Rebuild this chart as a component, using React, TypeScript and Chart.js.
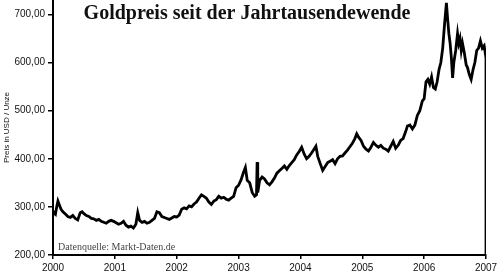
import React, { useEffect, useRef } from "react";
import { Chart, registerables } from "chart.js";

Chart.register(...registerables);

const chartTitle = "Goldpreis seit der Jahrtausendewende";
const yAxisTitle = "Preis in USD / Unze";
const sourceNote = "Datenquelle: Markt-Daten.de";

const xTickYears = [2000, 2001, 2002, 2003, 2004, 2005, 2006, 2007];
const yTickValues = [200, 300, 400, 500, 600, 700];

const dates = [
  2000.0, 2000.02, 2000.04, 2000.06, 2000.08, 2000.1, 2000.13, 2000.16, 2000.2, 2000.24,
  2000.28, 2000.32, 2000.36, 2000.4, 2000.44, 2000.47, 2000.5, 2000.54, 2000.58, 2000.62,
  2000.66, 2000.7, 2000.74, 2000.78, 2000.82, 2000.86, 2000.9, 2000.94, 2000.98,
  2001.02, 2001.06, 2001.1, 2001.14, 2001.18, 2001.22, 2001.26, 2001.3, 2001.34, 2001.37,
  2001.4, 2001.44, 2001.48, 2001.52, 2001.56, 2001.6, 2001.64, 2001.68, 2001.72, 2001.76,
  2001.8, 2001.84, 2001.88, 2001.92, 2001.96,
  2002.0, 2002.04, 2002.08, 2002.12, 2002.16, 2002.2, 2002.24, 2002.28, 2002.32, 2002.36,
  2002.4, 2002.44, 2002.48, 2002.52, 2002.56, 2002.6, 2002.64, 2002.68, 2002.72, 2002.76,
  2002.8, 2002.84, 2002.88, 2002.92, 2002.96,
  2003.0, 2003.04, 2003.08, 2003.11, 2003.14, 2003.18, 2003.22, 2003.26, 2003.29, 2003.3,
  2003.31, 2003.34, 2003.38, 2003.42, 2003.46, 2003.5, 2003.54, 2003.58, 2003.62, 2003.66,
  2003.7, 2003.74, 2003.78, 2003.82, 2003.86, 2003.9, 2003.94, 2003.98,
  2004.02, 2004.06, 2004.1, 2004.14, 2004.18, 2004.22, 2004.25, 2004.28, 2004.32, 2004.36,
  2004.4, 2004.44, 2004.48, 2004.52, 2004.56, 2004.6, 2004.64, 2004.68, 2004.72, 2004.76,
  2004.8, 2004.84, 2004.88, 2004.91, 2004.94, 2004.98,
  2005.02, 2005.06, 2005.1, 2005.14, 2005.18, 2005.22, 2005.26, 2005.3, 2005.34, 2005.38,
  2005.42, 2005.46, 2005.5, 2005.54, 2005.58, 2005.62, 2005.66, 2005.7, 2005.73, 2005.77,
  2005.81, 2005.85, 2005.89, 2005.93, 2005.97,
  2006.0, 2006.03, 2006.06, 2006.09, 2006.12, 2006.15, 2006.18, 2006.21, 2006.24, 2006.27,
  2006.3, 2006.33, 2006.36, 2006.38, 2006.4, 2006.42, 2006.44, 2006.46, 2006.48, 2006.51,
  2006.54, 2006.56, 2006.58, 2006.6, 2006.62, 2006.65, 2006.68, 2006.7, 2006.73, 2006.76,
  2006.79, 2006.82, 2006.85, 2006.88, 2006.91, 2006.94, 2006.97, 2007.0, 2007.0,
];

const prices = [
  283, 288, 285, 300, 312, 305, 295, 290, 285, 280,
  278, 282, 276, 273, 288, 290, 286, 282, 280, 276,
  275, 272, 274, 270, 268, 266, 270, 272, 270,
  267, 264, 266, 270, 262, 258, 260, 256, 264, 288,
  272, 268, 270, 266, 268, 272, 276, 290, 288, 280,
  278, 276, 274, 277, 280,
  279, 283, 295, 298, 296, 302, 300, 306, 310, 318,
  325, 322, 318, 310, 305, 312, 315, 322, 318, 320,
  316, 314, 318, 322, 340,
  345, 356, 372, 382, 355, 350, 330, 322, 325, 393,
  330, 355, 362, 358, 350, 346, 352, 360, 370, 375,
  380, 385, 378, 386, 392, 398, 408, 415,
  424, 410, 400, 405, 412, 420, 426, 405, 390, 376,
  384, 392, 395, 398, 390, 400, 405, 406, 412, 418,
  425, 432, 442, 452, 445, 438,
  426, 420, 416, 424, 434, 428, 424, 428, 422, 420,
  416, 426, 436, 422, 428, 438, 442, 456, 468, 470,
  462, 470, 490, 500, 520,
  525, 560, 565, 555, 570, 548, 545, 560, 585, 600,
  630, 680, 724, 690, 660, 640, 610, 568, 600, 625,
  660, 640, 650, 625, 640, 620, 595, 590, 575, 565,
  585, 600, 625, 630, 645, 630, 635, 610, 200,
];

const overlayText = {
  id: "overlayText",
  afterDraw(chart: any) {
    const ctx = chart.ctx;
    const area = chart.chartArea;
    ctx.save();
    ctx.fillStyle = "#111";
    ctx.font = 'bold 20px "Liberation Serif", serif';
    ctx.textAlign = "center";
    ctx.textBaseline = "alphabetic";
    ctx.fillText(chartTitle, 247, 19);
    ctx.fillStyle = "#444";
    ctx.font = '10px "Liberation Serif", serif';
    ctx.textAlign = "left";
    ctx.fillText(sourceNote, area.left + 5, area.bottom - 5);
    ctx.restore();
  },
};

export default function App() {
  const ref = useRef<HTMLCanvasElement>(null);
  useEffect(() => {
    const chart = new Chart(ref.current as HTMLCanvasElement, {
      type: "line",
      data: {
        datasets: [
          {
            data: dates.map((d, i) => ({ x: d, y: prices[i] })),
            borderColor: "#000",
            borderWidth: 2.8,
            pointRadius: 0,
            tension: 0,
            fill: false,
          },
        ],
      },
      options: {
        animation: false,
        responsive: false,
        maintainAspectRatio: false,
        layout: { padding: { left: 0, right: 14, top: 0, bottom: 0 } },
        plugins: { legend: { display: false }, tooltip: { enabled: false }, title: { display: false } },
        scales: {
          x: {
            type: "linear",
            min: 2000,
            max: 2007,
            afterBuildTicks: (s: any) => {
              s.ticks = xTickYears.map((v) => ({ value: v }));
            },
            afterFit: (s: any) => {
              s.height = 23;
              s.paddingLeft = 0;
              s.paddingRight = 0;
            },
            ticks: {
              callback: (v: any) => String(v),
              font: { family: '"Liberation Sans", Arial, sans-serif', size: 10 },
              color: "#111",
              padding: 3,
              maxRotation: 0,
              autoSkip: false,
            },
            grid: { display: true, drawOnChartArea: false, drawTicks: true, tickLength: 4, color: "#000", lineWidth: 1.5 },
            border: { display: true, color: "#000", width: 2 },
          },
          y: {
            type: "linear",
            min: 200,
            max: 730,
            afterBuildTicks: (s: any) => {
              s.ticks = yTickValues.map((v) => ({ value: v }));
            },
            afterFit: (s: any) => {
              s.width = 53;
              s.paddingTop = 0;
              s.paddingBottom = 0;
            },
            ticks: {
              callback: (v: any) => Number(v).toFixed(2).replace(".", ","),
              font: { family: '"Liberation Sans", Arial, sans-serif', size: 10 },
              color: "#111",
              padding: 3,
            },
            title: {
              display: true,
              text: yAxisTitle,
              font: { family: '"Liberation Sans", Arial, sans-serif', size: 8 },
              color: "#111",
              padding: { top: 2, bottom: 0 },
            },
            grid: { display: true, drawOnChartArea: false, drawTicks: true, tickLength: 5, color: "#000", lineWidth: 1.5 },
            border: { display: true, color: "#000", width: 2 },
          },
        },
      },
      plugins: [overlayText],
    });
    return () => chart.destroy();
  }, []);
  return (
    <div style={{ position: "fixed", left: 0, top: 0, width: 500, height: 278, background: "#fff" }}>
      <canvas ref={ref} width={500} height={278} style={{ display: "block" }} />
    </div>
  );
}
